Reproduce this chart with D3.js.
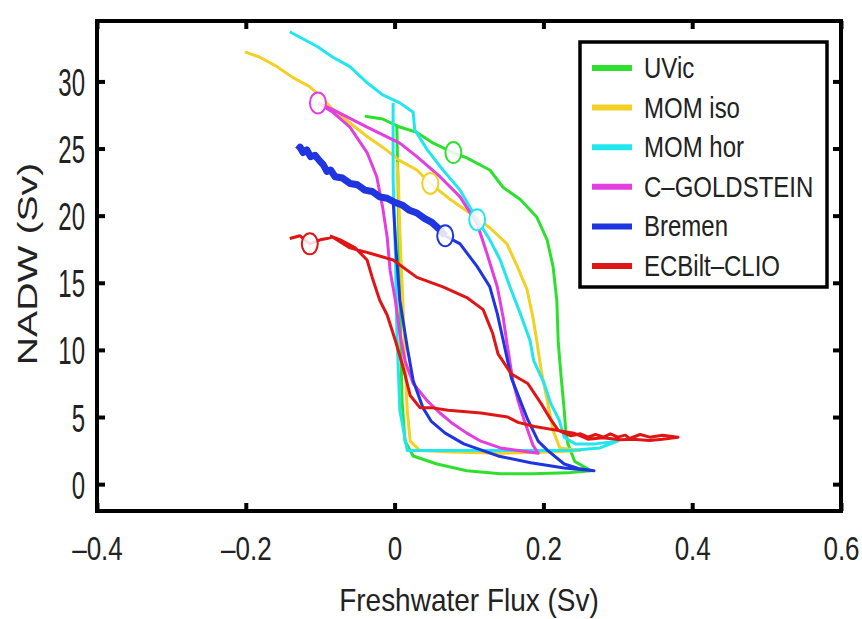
<!DOCTYPE html>
<html>
<head>
<meta charset="utf-8">
<script src="https://cdn.jsdelivr.net/npm/d3@7"></script>
<style>
  body { margin: 0; background: #fff; }
  text { font-family: "Liberation Sans", Arial, sans-serif; fill: #222; }
</style>
</head>
<body>
<div id="chart"></div>
<script>
// model names, legend order
const models = ["UVic", "MOM iso", "MOM hor", "C–GOLDSTEIN", "Bremen", "ECBilt–CLIO"];
const colors = ["#2ee02e", "#f2d024", "#22e6ee", "#e23ee0", "#1f35e0", "#e01515"];

const xTicks = [-0.4, -0.2, 0, 0.2, 0.4, 0.6];
const yTicks = [0, 5, 10, 15, 20, 25, 30];

// hysteresis loops [freshwater flux (Sv), NADW (Sv)]
const uvic = [
  [-0.040, 27.4], [-0.016, 27.2], [0.007, 26.6], [0.030, 26.2], [0.052, 25.4], [0.079, 24.7],
  [0.097, 24.3], [0.128, 23.4], [0.146, 22.1], [0.169, 21.2], [0.191, 19.9], [0.205, 18.2],
  [0.213, 16.2], [0.218, 13.7], [0.220, 10.5], [0.224, 7.9], [0.228, 5.5], [0.230, 4.0],
  [0.233, 3.0], [0.242, 1.7], [0.264, 1.0],
  [0.232, 0.84], [0.186, 0.77], [0.142, 0.77], [0.097, 1.0], [0.057, 1.5], [0.025, 2.1],
  [0.014, 3.2], [0.010, 6.2], [0.007, 13.7], [0.005, 21.2], [0.003, 26.7]
];
const momIso = [
  [-0.201, 32.2], [-0.181, 31.8], [-0.158, 31.1], [-0.137, 30.3], [-0.114, 29.6], [-0.100, 28.9],
  [-0.083, 27.9], [-0.060, 26.9], [-0.037, 25.9], [-0.016, 25.1], [0.007, 24.1], [0.030, 23.4],
  [0.048, 22.4], [0.075, 21.2], [0.101, 20.2], [0.128, 19.1], [0.151, 17.9], [0.165, 16.2],
  [0.178, 14.5], [0.186, 12.4], [0.191, 10.7], [0.197, 8.5], [0.206, 6.0], [0.213, 4.0],
  [0.222, 2.7], [0.249, 2.5],
  [0.209, 2.4], [0.142, 2.3], [0.075, 2.4], [0.034, 2.5], [0.021, 3.2], [0.017, 5.5],
  [0.014, 9.2], [0.011, 13.7], [0.007, 18.9], [0.005, 22.7], [0.003, 24.0]
];
const momHor = [
  [-0.141, 33.7], [-0.104, 32.6], [-0.083, 31.8], [-0.060, 31.1], [-0.037, 29.9], [-0.016, 29.0],
  [0.007, 28.4], [0.025, 27.7], [0.027, 26.4], [0.044, 24.9], [0.065, 23.4], [0.088, 21.9],
  [0.111, 19.7], [0.128, 18.2], [0.142, 16.7], [0.155, 14.7], [0.169, 12.7], [0.182, 10.7],
  [0.187, 9.2], [0.201, 7.5], [0.210, 6.0], [0.221, 4.8], [0.228, 3.5], [0.243, 3.0],
  [0.269, 3.0], [0.300, 3.2],
  [0.276, 2.7], [0.236, 2.5], [0.182, 2.5], [0.115, 2.5], [0.061, 2.5], [0.017, 2.5],
  [0.007, 5.5], [0.003, 11.5], [0.001, 17.4], [-0.002, 22.7], [-0.002, 28.4]
];
const cGoldstein = [
  [-0.103, 28.4], [-0.083, 27.9], [-0.037, 26.6], [0.007, 25.4], [0.030, 24.4], [0.061, 22.9],
  [0.088, 21.4], [0.111, 19.4], [0.124, 17.2], [0.138, 14.7], [0.146, 12.4], [0.151, 10.5],
  [0.159, 7.7], [0.166, 6.2], [0.174, 4.8], [0.179, 4.0], [0.186, 2.9], [0.193, 2.3],
  [0.166, 2.5], [0.142, 2.7], [0.116, 3.2], [0.097, 3.8], [0.076, 4.6], [0.061, 5.3],
  [0.044, 6.2], [0.025, 7.5], [0.014, 9.2], [0.007, 11.2], [0.001, 13.7], [-0.006, 15.9],
  [-0.010, 18.4], [-0.016, 20.6], [-0.024, 22.9], [-0.037, 24.7], [-0.060, 26.6],
  [-0.083, 27.7], [-0.103, 28.4]
];
const bremen = [
  [-0.130, 24.9], [-0.127, 25.1], [-0.123, 24.7], [-0.118, 24.9], [-0.113, 24.4], [-0.107, 24.5],
  [-0.101, 24.1], [-0.096, 23.8], [-0.091, 23.3], [-0.086, 23.4], [-0.080, 22.9], [-0.070, 22.8],
  [-0.060, 22.4], [-0.050, 22.3], [-0.040, 21.9], [-0.030, 21.8], [-0.020, 21.4], [-0.010, 21.3],
  [0.000, 21.0], [0.010, 20.8], [0.020, 20.4], [0.030, 20.2], [0.040, 19.8], [0.050, 19.5],
  [0.060, 19.0], [0.068, 18.5],
  [0.088, 17.9], [0.111, 16.2], [0.128, 14.7], [0.138, 12.7], [0.146, 10.7], [0.157, 7.9],
  [0.169, 6.2], [0.179, 4.8], [0.193, 3.2], [0.206, 2.5], [0.228, 1.5], [0.249, 1.14], [0.268, 1.0],
  [0.228, 1.2], [0.183, 1.6], [0.139, 2.1], [0.093, 3.0], [0.068, 3.8], [0.049, 4.7],
  [0.038, 5.7], [0.025, 7.7], [0.017, 10.2], [0.007, 13.7], [0.002, 17.4], [-0.002, 21.2]
];
const ecbilt = [
  [-0.141, 18.3], [-0.127, 18.5], [-0.114, 17.9], [-0.100, 18.2], [-0.091, 18.3], [-0.083, 18.4],
  [-0.060, 17.6], [-0.033, 17.2], [-0.002, 16.7], [0.030, 15.4], [0.065, 14.7], [0.097, 13.9],
  [0.119, 13.0], [0.132, 11.2], [0.139, 9.7], [0.157, 8.2], [0.179, 7.5], [0.197, 6.0],
  [0.210, 4.8], [0.220, 4.0], [0.237, 3.6], [0.250, 3.75], [0.260, 3.5], [0.270, 3.7],
  [0.281, 3.5], [0.290, 3.75], [0.300, 3.5], [0.310, 3.65], [0.316, 3.4], [0.330, 3.7],
  [0.343, 3.5], [0.360, 3.65], [0.381, 3.5],
  [0.360, 3.35], [0.343, 3.25], [0.320, 3.35], [0.303, 3.3], [0.280, 3.45], [0.260, 3.35],
  [0.241, 3.8], [0.188, 4.3], [0.166, 4.6], [0.152, 5.0], [0.116, 5.3], [0.072, 5.5],
  [0.049, 5.7], [0.034, 5.7], [0.021, 6.6], [0.011, 8.8], [0.001, 10.7], [-0.010, 12.6],
  [-0.020, 13.7], [-0.029, 15.2], [-0.037, 16.7], [-0.053, 17.6], [-0.073, 18.2], [-0.087, 18.5]
];
const series = [uvic, momIso, momHor, cGoldstein, bremen, ecbilt];

// present-day states (open circles)
const presentDay = [
  [0.079, 24.7], [0.048, 22.4], [0.111, 19.7], [-0.103, 28.4], [0.068, 18.5], [-0.114, 17.9]
];

const W = 862, H = 619;
const svg = d3.select("#chart").append("svg")
  .attr("width", W)
  .attr("height", H);

const x = d3.scaleLinear().domain([-0.4, 0.6]).range([97, 841]);
const y = d3.scaleLinear().domain([-2, 34.5]).range([511, 21]);

const fmt = d => d < 0 ? "–" + Math.abs(d) : String(d);

// axes, ticks inward
const gx = svg.append("g")
  .attr("transform", `translate(0,${y.range()[0]})`)
  .call(d3.axisBottom(x).tickValues(xTicks).tickSize(-8).tickSizeOuter(0).tickFormat(fmt));
const gxTop = svg.append("g")
  .attr("transform", `translate(0,${y.range()[1]})`)
  .call(d3.axisTop(x).tickValues(xTicks).tickSize(-8).tickSizeOuter(0).tickFormat(""));
const gy = svg.append("g")
  .attr("transform", `translate(${x.range()[0]},0)`)
  .call(d3.axisLeft(y).tickValues(yTicks).tickSize(-8).tickSizeOuter(0));
const gyRight = svg.append("g")
  .attr("transform", `translate(${x.range()[1]},0)`)
  .call(d3.axisRight(y).tickValues(yTicks).tickSize(-8).tickSizeOuter(0).tickFormat(""));

[gx, gxTop, gy, gyRight].forEach(g => {
  g.select(".domain").remove();
  g.selectAll(".tick line").attr("stroke", "#000").attr("stroke-width", 4);
});

gx.selectAll(".tick text")
  .attr("y", 0).attr("dy", null)
  .attr("transform", "translate(0,49) scale(1,1.25)")
  .style("font-size", "26px").style("fill", "#222");
gy.selectAll(".tick text")
  .attr("x", 0).attr("dy", null)
  .attr("transform", "translate(-12,14) scale(1,1.6)")
  .style("font-size", "24px").style("fill", "#222");

// plot box
svg.append("rect")
  .attr("x", x.range()[0])
  .attr("y", y.range()[1])
  .attr("width", x.range()[1] - x.range()[0])
  .attr("height", y.range()[0] - y.range()[1])
  .attr("fill", "none")
  .attr("stroke", "#000")
  .attr("stroke-width", 4);

// curves
const line = d3.line().x(d => x(d[0])).y(d => y(d[1]));

svg.append("g")
  .selectAll("path")
  .data(series)
  .join("path")
  .attr("d", line)
  .attr("fill", "none")
  .attr("stroke", (d, i) => colors[i])
  .attr("stroke-width", 3)
  .attr("stroke-linejoin", "round");

// Bremen's noisy upper branch is drawn thicker
const bremenUpper = bremen.slice(0, bremen.findIndex(d => d[0] >= presentDay[4][0]) + 1);
svg.append("path")
  .attr("d", line(bremenUpper))
  .attr("fill", "none")
  .attr("stroke", colors[4])
  .attr("stroke-width", 7)
  .attr("stroke-linejoin", "round");

svg.append("g")
  .selectAll("ellipse")
  .data(presentDay)
  .join("ellipse")
  .attr("cx", d => x(d[0]))
  .attr("cy", d => y(d[1]))
  .attr("rx", 8)
  .attr("ry", 10.5)
  .attr("fill", "#fff")
  .attr("fill-opacity", 0.85)
  .attr("stroke", (d, i) => colors[i])
  .attr("stroke-width", 2);

// legend
const legend = svg.append("g");
legend.append("rect")
  .attr("x", 580).attr("y", 42)
  .attr("width", 247).attr("height", 245)
  .attr("fill", "#fff")
  .attr("stroke", "#000")
  .attr("stroke-width", 3.5);

const rowY = i => 68 + i * 39.6;
legend.selectAll("line")
  .data(models)
  .join("line")
  .attr("x1", 592).attr("x2", 632)
  .attr("y1", (d, i) => rowY(i)).attr("y2", (d, i) => rowY(i))
  .attr("stroke", (d, i) => colors[i])
  .attr("stroke-width", 6);
legend.selectAll("text")
  .data(models)
  .join("text")
  .attr("transform", (d, i) => `translate(644,${rowY(i) + 10}) scale(1,1.2)`)
  .style("font-size", "24px")
  .text(d => d);

// axis titles
svg.append("text")
  .attr("transform", `translate(${(x.range()[0] + x.range()[1]) / 2},611) scale(1,1.15)`)
  .attr("text-anchor", "middle")
  .style("font-size", "28px")
  .text("Freshwater Flux (Sv)");

svg.append("text")
  .attr("transform", "translate(37,264) rotate(-90) scale(1.4,1)")
  .attr("text-anchor", "middle")
  .style("font-size", "28px")
  .text("NADW (Sv)");
</script>
</body>
</html>
